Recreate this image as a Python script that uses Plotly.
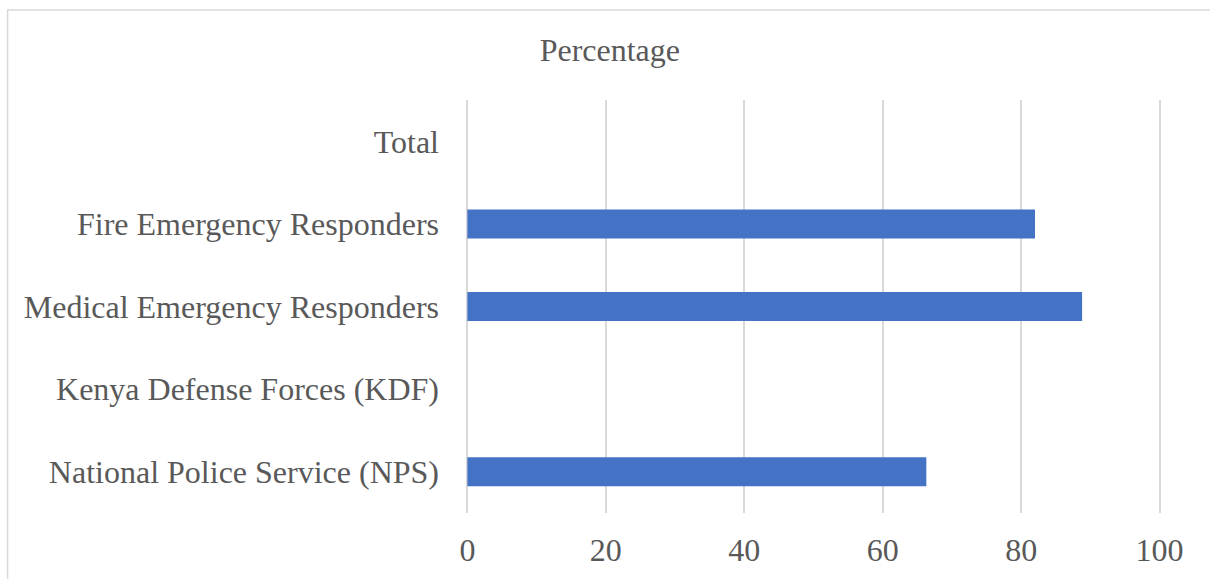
import plotly.graph_objects as go

categories = [
    "National Police Service (NPS)",
    "Kenya Defense Forces (KDF)",
    "Medical Emergency Responders",
    "Fire Emergency Responders",
    "Total",
]
percentages = [66.3, 0, 88.8, 82.0, None]
x_ticks = [0, 20, 40, 60, 80, 100]
title_text = "Percentage"

W, H = 1210, 579
X0PX, X100PX = 467.5, 1160
SCALE = (X100PX - X0PX) / 100.0
PADU = 0.2
L = X0PX - PADU * SCALE
R = X100PX + PADU * SCALE
T, B = 100, 513

fig = go.Figure(
    go.Bar(
        x=percentages,
        y=categories,
        orientation="h",
        marker=dict(color="#4472C4", line=dict(width=0)),
    )
)

def px_x(p):
    return (p - L) / (R - L)

def px_y(p):
    return (B - p) / (B - T)

FONT = "Liberation Serif, Times New Roman, serif"

fig.update_layout(
    width=W,
    height=H,
    margin=dict(l=L, r=W - R, t=T, b=H - B, pad=0),
    paper_bgcolor="white",
    plot_bgcolor="white",
    bargap=0.649,
    showlegend=False,
    font=dict(family=FONT, color="#595959", size=32),
    title=dict(
        text=title_text,
        x=px_x(610), xref="paper", xanchor="center",
        y=1 - 50 / H, yref="container", yanchor="middle",
        font=dict(size=32, color="#595959", family=FONT),
    ),
    xaxis=dict(
        range=[-PADU, 100 + PADU],
        tickvals=x_ticks,
        showgrid=True,
        gridcolor="#D9D9D9",
        gridwidth=1.5,
        zeroline=False,
        showline=False,
        ticks="",
        ticklabelstandoff=15,
        tickfont=dict(size=32, color="#595959"),
        fixedrange=True,
    ),
    yaxis=dict(
        categoryorder="array",
        categoryarray=categories,
        showgrid=False,
        zeroline=False,
        showline=False,
        ticks="",
        ticklabelstandoff=26,
        tickfont=dict(size=32, color="#595959"),
        fixedrange=True,
    ),
    shapes=[
        dict(
            type="rect", xref="paper", yref="paper",
            x0=px_x(7.5), x1=px_x(1230), y0=px_y(600), y1=px_y(10),
            line=dict(color="#D9D9D9", width=1.5),
            fillcolor="rgba(0,0,0,0)", layer="below",
        )
    ],
)

fig.write_html("out.html", config={"displayModeBar": False})
